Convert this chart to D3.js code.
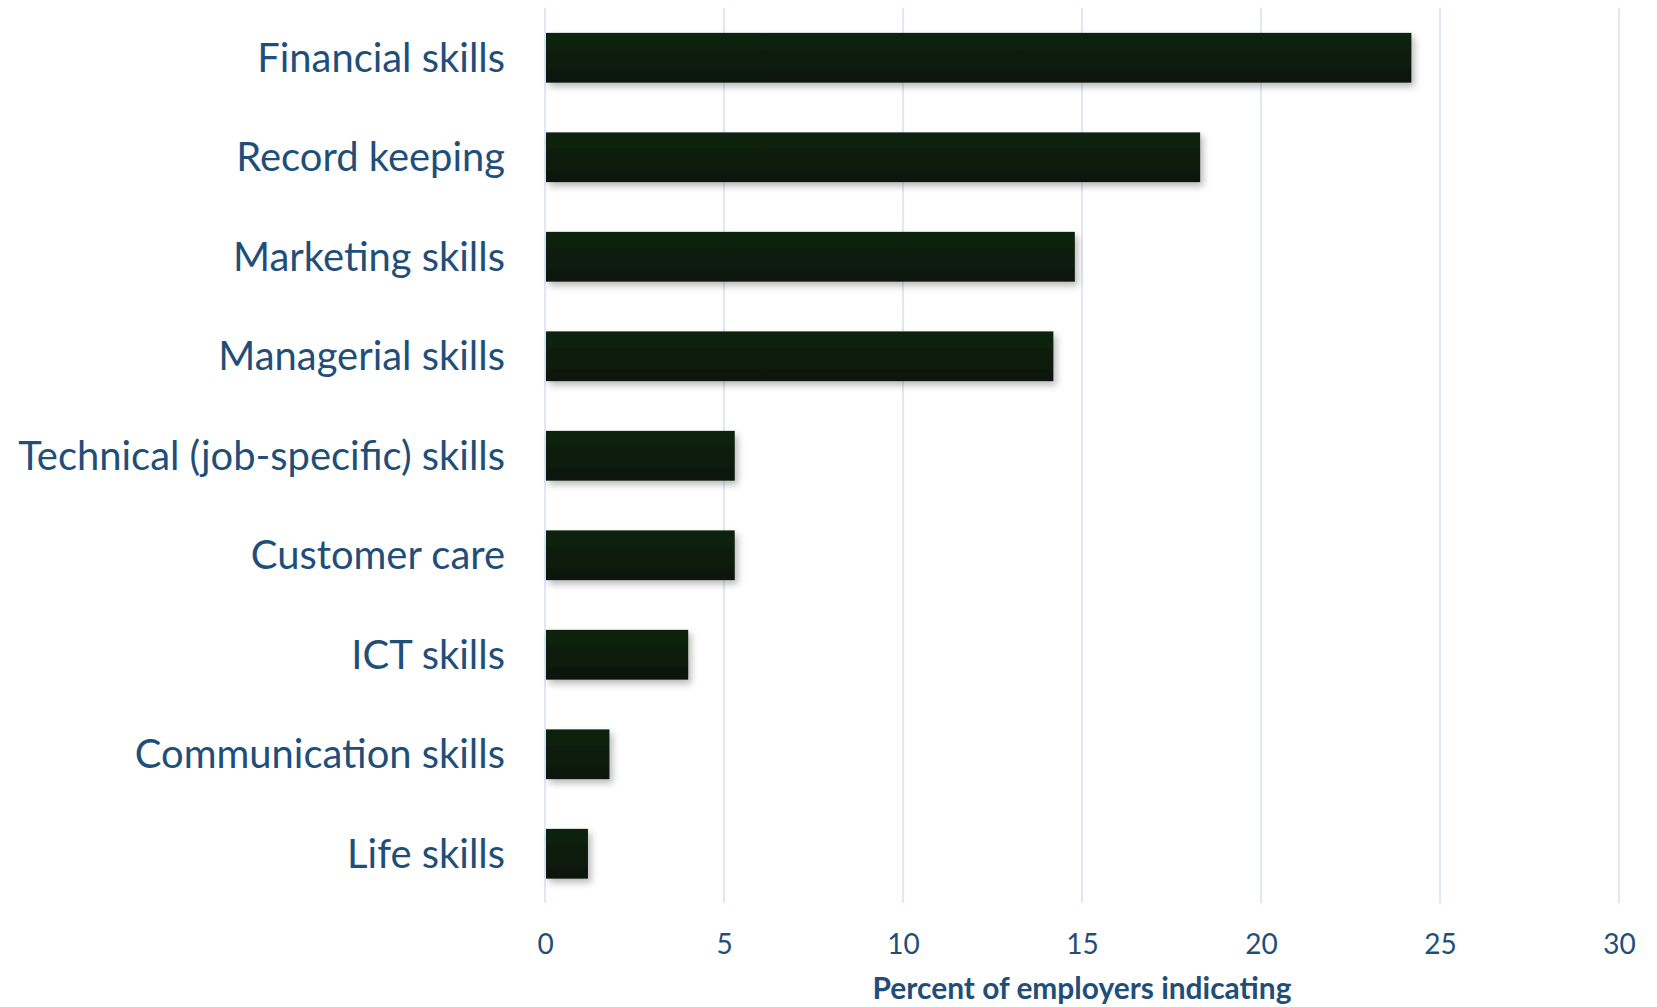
<!DOCTYPE html>
<html>
<head>
<meta charset="utf-8">
<script src="https://cdn.jsdelivr.net/npm/d3@7/dist/d3.min.js"></script>
<style>
  html, body { margin: 0; padding: 0; background: #ffffff; }
  svg { display: block; }
</style>
</head>
<body>
<svg id="chart" width="1657" height="1007"></svg>
<script>
const categories = [
  "Financial skills",
  "Record keeping",
  "Marketing skills",
  "Managerial skills",
  "Technical (job-specific) skills",
  "Customer care",
  "ICT skills",
  "Communication skills",
  "Life skills"
];
const values = [24.2, 18.3, 14.8, 14.2, 5.3, 5.3, 4.0, 1.8, 1.2];
const tickValues = [0, 5, 10, 15, 20, 25, 30];
const axisTitle = "Percent of employers indicating";

const svg = d3.select("#chart");
const textColor = "#1f4e79";
const fontFamily = "Lato, 'Open Sans', 'Noto Sans', sans-serif";

const x = d3.scaleLinear().domain([0, 30]).range([545, 1619]);
const y = d3.scaleBand().domain(categories).range([8, 903.5])
  .paddingInner(0.5).paddingOuter(0.25);

const defs = svg.append("defs");
const grad = defs.append("linearGradient").attr("id", "barGrad")
  .attr("x1", 0).attr("y1", 0).attr("x2", 0).attr("y2", 1);
grad.append("stop").attr("offset", "0%").attr("stop-color", "#0e240e");
grad.append("stop").attr("offset", "100%").attr("stop-color", "#071607");

const filt = defs.append("filter").attr("id", "shadow")
  .attr("x", "-10%").attr("y", "-20%").attr("width", "130%").attr("height", "160%");
filt.append("feDropShadow").attr("dx", 3).attr("dy", 4).attr("stdDeviation", 3.5)
  .attr("flood-color", "#000").attr("flood-opacity", 0.28);

// gridlines
svg.append("g").selectAll("line").data(tickValues).join("line")
  .attr("x1", d => x(d)).attr("x2", d => x(d))
  .attr("y1", 8).attr("y2", 903)
  .attr("stroke", "#d6e3f4").attr("stroke-width", 1.6);

// bars
svg.append("g").selectAll("rect").data(values).join("rect")
  .attr("x", x(0) + 1)
  .attr("y", (d, i) => y(categories[i]))
  .attr("width", d => x(d) - x(0) - 1)
  .attr("height", y.bandwidth())
  .attr("fill", "url(#barGrad)")
  .attr("filter", "url(#shadow)");

// x axis via d3.axisBottom
const xAxis = d3.axisBottom(x).tickValues(tickValues).tickSize(0).tickPadding(0);
const gx = svg.append("g").attr("transform", "translate(0,954)").call(xAxis);
gx.select(".domain").remove();
gx.selectAll("text")
  .attr("dy", 0).attr("y", 0)
  .attr("fill", textColor)
  .style("font-family", fontFamily)
  .style("font-size", "28px");

// y axis labels via d3.axisLeft
const yAxis = d3.axisLeft(y).tickSize(0).tickPadding(0);
const gy = svg.append("g").attr("transform", "translate(505,0)").call(yAxis);
gy.select(".domain").remove();
const labels = gy.selectAll("text")
  .attr("x", 0)
  .attr("dy", "0.35em")
  .attr("fill", textColor)
  .style("font-family", fontFamily)
  .style("font-size", "40px");
let maxW = 0;
labels.each(function() { maxW = Math.max(maxW, this.getComputedTextLength()); });
labels.style("font-size", (40 * 487 / maxW) + "px");

// axis title
const title = svg.append("text")
  .attr("x", (x(0) + x(30)) / 2)
  .attr("y", 999)
  .attr("text-anchor", "middle")
  .attr("fill", textColor)
  .style("font-family", fontFamily)
  .style("font-weight", "bold")
  .style("font-size", "26px")
  .text(axisTitle);
const tw = title.node().getComputedTextLength();
title.style("font-size", (26 * 419 / tw) + "px");
</script>
</body>
</html>
